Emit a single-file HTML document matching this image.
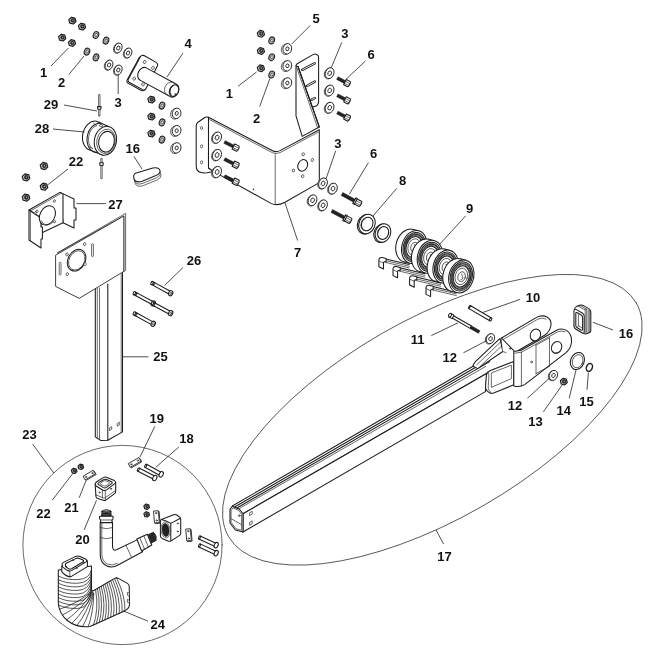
<!DOCTYPE html>
<html><head><meta charset="utf-8"><title>Parts diagram</title>
<style>
html,body{margin:0;padding:0;background:#fff;}
body{width:650px;height:650px;overflow:hidden;}
svg{display:block;filter:grayscale(1);}
.l{font-family:"Liberation Sans",sans-serif;font-weight:bold;font-size:13px;fill:#111;text-anchor:middle;}
.s{fill:none;stroke:#1c1c1c;stroke-width:1.05;stroke-linecap:round;stroke-linejoin:round;}
.t{fill:none;stroke:#2a2a2a;stroke-width:0.7;stroke-linecap:round;stroke-linejoin:round;}
.w{fill:#fff;stroke:#1c1c1c;stroke-width:1.05;stroke-linecap:round;stroke-linejoin:round;}
.wt{fill:#fff;stroke:#2a2a2a;stroke-width:0.7;stroke-linejoin:round;}
.w2{fill:#fff;stroke:#1c1c1c;stroke-width:0.85;}
.k{fill:#222;stroke:#222;stroke-width:0.6;stroke-linejoin:round;}
.ld{fill:none;stroke:#222;stroke-width:0.8;}
.g{fill:#888;stroke:#222;stroke-width:0.6;}
</style></head><body>
<svg width="650" height="650" viewBox="0 0 650 650">
<rect x="0" y="0" width="650" height="650" fill="#fff"/>
<!-- 00_frame.py -->
<ellipse class="t" cx="432.4" cy="419.7" rx="235" ry="99.9" transform="rotate(-29.8 432.4 419.7)"/>
<circle class="t" cx="122.5" cy="545" r="99.6"/>
<!-- 10_topleft.py -->
<path d="M75.97 21.51 L73.36 24 L69.78 23.09 L68.83 19.69 L71.44 17.2 L75.02 18.11 Z" fill="#c4c4c4" stroke="#1c1c1c" stroke-width="1.15" stroke-linejoin="round"/>
<ellipse class="k" cx="72.7" cy="20.4" rx="1.78" ry="1.92"/>
<ellipse class="wt" cx="72.9" cy="20.3" rx="0.74" ry="0.89"/>
<path d="M85.57 27.51 L82.96 30 L79.38 29.09 L78.43 25.69 L81.04 23.2 L84.62 24.11 Z" fill="#c4c4c4" stroke="#1c1c1c" stroke-width="1.15" stroke-linejoin="round"/>
<ellipse class="k" cx="82.3" cy="26.4" rx="1.78" ry="1.92"/>
<ellipse class="wt" cx="82.5" cy="26.3" rx="0.74" ry="0.89"/>
<path d="M65.77 38.51 L63.16 41 L59.58 40.09 L58.63 36.69 L61.24 34.2 L64.82 35.11 Z" fill="#c4c4c4" stroke="#1c1c1c" stroke-width="1.15" stroke-linejoin="round"/>
<ellipse class="k" cx="62.5" cy="37.4" rx="1.78" ry="1.92"/>
<ellipse class="wt" cx="62.7" cy="37.3" rx="0.74" ry="0.89"/>
<path d="M75.57 43.91 L72.96 46.4 L69.38 45.49 L68.43 42.09 L71.04 39.6 L74.62 40.51 Z" fill="#c4c4c4" stroke="#1c1c1c" stroke-width="1.15" stroke-linejoin="round"/>
<ellipse class="k" cx="72.3" cy="42.8" rx="1.78" ry="1.92"/>
<ellipse class="wt" cx="72.5" cy="42.7" rx="0.74" ry="0.89"/>
<ellipse cx="96" cy="35" rx="2.7" ry="3.5" transform="rotate(20 96 35)" fill="#bbb" stroke="#222" stroke-width="1.1"/>
<ellipse class="wt" cx="96.2" cy="35" rx="1.13" ry="1.61" transform="rotate(20 96.2 35)"/>
<ellipse cx="106" cy="40.6" rx="2.7" ry="3.5" transform="rotate(20 106 40.6)" fill="#bbb" stroke="#222" stroke-width="1.1"/>
<ellipse class="wt" cx="106.2" cy="40.6" rx="1.13" ry="1.61" transform="rotate(20 106.2 40.6)"/>
<ellipse cx="87" cy="51.6" rx="2.7" ry="3.5" transform="rotate(20 87 51.6)" fill="#bbb" stroke="#222" stroke-width="1.1"/>
<ellipse class="wt" cx="87.2" cy="51.6" rx="1.13" ry="1.61" transform="rotate(20 87.2 51.6)"/>
<ellipse cx="96" cy="57.4" rx="2.7" ry="3.5" transform="rotate(20 96 57.4)" fill="#bbb" stroke="#222" stroke-width="1.1"/>
<ellipse class="wt" cx="96.2" cy="57.4" rx="1.13" ry="1.61" transform="rotate(20 96.2 57.4)"/>
<ellipse class="wt" cx="117.4" cy="48.24" rx="3.7" ry="5.1" transform="rotate(22 117.4 48.24)"/>
<ellipse class="w2" cx="118.2" cy="48" rx="3.7" ry="5.1" transform="rotate(22 118.2 48)"/>
<ellipse class="w2" cx="118.3" cy="48" rx="1.55" ry="2.14" transform="rotate(22 118.3 48)"/>
<ellipse class="wt" cx="127.2" cy="53.24" rx="3.7" ry="5.1" transform="rotate(22 127.2 53.24)"/>
<ellipse class="w2" cx="128" cy="53" rx="3.7" ry="5.1" transform="rotate(22 128 53)"/>
<ellipse class="w2" cx="128.1" cy="53" rx="1.55" ry="2.14" transform="rotate(22 128.1 53)"/>
<ellipse class="wt" cx="108.2" cy="65.24" rx="3.7" ry="5.1" transform="rotate(22 108.2 65.24)"/>
<ellipse class="w2" cx="109" cy="65" rx="3.7" ry="5.1" transform="rotate(22 109 65)"/>
<ellipse class="w2" cx="109.1" cy="65" rx="1.55" ry="2.14" transform="rotate(22 109.1 65)"/>
<ellipse class="wt" cx="117.4" cy="70.24" rx="3.7" ry="5.1" transform="rotate(22 117.4 70.24)"/>
<ellipse class="w2" cx="118.2" cy="70" rx="3.7" ry="5.1" transform="rotate(22 118.2 70)"/>
<ellipse class="w2" cx="118.3" cy="70" rx="1.55" ry="2.14" transform="rotate(22 118.3 70)"/>
<path d="M154.97 100.51 L152.36 103 L148.78 102.09 L147.83 98.69 L150.44 96.2 L154.02 97.11 Z" fill="#c4c4c4" stroke="#1c1c1c" stroke-width="1.15" stroke-linejoin="round"/>
<ellipse class="k" cx="151.7" cy="99.4" rx="1.78" ry="1.92"/>
<ellipse class="wt" cx="151.9" cy="99.3" rx="0.74" ry="0.89"/>
<path d="M154.97 117.51 L152.36 120 L148.78 119.09 L147.83 115.69 L150.44 113.2 L154.02 114.11 Z" fill="#c4c4c4" stroke="#1c1c1c" stroke-width="1.15" stroke-linejoin="round"/>
<ellipse class="k" cx="151.7" cy="116.4" rx="1.78" ry="1.92"/>
<ellipse class="wt" cx="151.9" cy="116.3" rx="0.74" ry="0.89"/>
<path d="M154.97 134.51 L152.36 137 L148.78 136.09 L147.83 132.69 L150.44 130.2 L154.02 131.11 Z" fill="#c4c4c4" stroke="#1c1c1c" stroke-width="1.15" stroke-linejoin="round"/>
<ellipse class="k" cx="151.7" cy="133.4" rx="1.78" ry="1.92"/>
<ellipse class="wt" cx="151.9" cy="133.3" rx="0.74" ry="0.89"/>
<ellipse cx="162" cy="105.6" rx="2.7" ry="3.5" transform="rotate(20 162 105.6)" fill="#bbb" stroke="#222" stroke-width="1.1"/>
<ellipse class="wt" cx="162.2" cy="105.6" rx="1.13" ry="1.61" transform="rotate(20 162.2 105.6)"/>
<ellipse cx="162" cy="122.4" rx="2.7" ry="3.5" transform="rotate(20 162 122.4)" fill="#bbb" stroke="#222" stroke-width="1.1"/>
<ellipse class="wt" cx="162.2" cy="122.4" rx="1.13" ry="1.61" transform="rotate(20 162.2 122.4)"/>
<ellipse cx="162" cy="139.6" rx="2.7" ry="3.5" transform="rotate(20 162 139.6)" fill="#bbb" stroke="#222" stroke-width="1.1"/>
<ellipse class="wt" cx="162.2" cy="139.6" rx="1.13" ry="1.61" transform="rotate(20 162.2 139.6)"/>
<ellipse class="wt" cx="175" cy="113.88" rx="4.3" ry="5.3" transform="rotate(15 175 113.88)"/>
<ellipse class="w2" cx="176.6" cy="113.4" rx="4.3" ry="5.3" transform="rotate(15 176.6 113.4)"/>
<ellipse class="w2" cx="176.7" cy="113.4" rx="1.55" ry="1.91" transform="rotate(15 176.7 113.4)"/>
<ellipse class="wt" cx="175" cy="131.18" rx="4.3" ry="5.3" transform="rotate(15 175 131.18)"/>
<ellipse class="w2" cx="176.6" cy="130.7" rx="4.3" ry="5.3" transform="rotate(15 176.6 130.7)"/>
<ellipse class="w2" cx="176.7" cy="130.7" rx="1.55" ry="1.91" transform="rotate(15 176.7 130.7)"/>
<ellipse class="wt" cx="175" cy="148.38" rx="4.3" ry="5.3" transform="rotate(15 175 148.38)"/>
<ellipse class="w2" cx="176.6" cy="147.9" rx="4.3" ry="5.3" transform="rotate(15 176.6 147.9)"/>
<ellipse class="w2" cx="176.7" cy="147.9" rx="1.55" ry="1.91" transform="rotate(15 176.7 147.9)"/>
<path d="M47.77 166.96 L45.01 169.58 L41.24 168.62 L40.23 165.04 L42.99 162.42 L46.76 163.38 Z" fill="#c4c4c4" stroke="#1c1c1c" stroke-width="1.15" stroke-linejoin="round"/>
<ellipse class="k" cx="44.3" cy="165.8" rx="1.87" ry="2.03"/>
<ellipse class="wt" cx="44.5" cy="165.7" rx="0.78" ry="0.94"/>
<path d="M29.77 178.36 L27.01 180.98 L23.24 180.02 L22.23 176.44 L24.99 173.82 L28.76 174.78 Z" fill="#c4c4c4" stroke="#1c1c1c" stroke-width="1.15" stroke-linejoin="round"/>
<ellipse class="k" cx="26.3" cy="177.2" rx="1.87" ry="2.03"/>
<ellipse class="wt" cx="26.5" cy="177.1" rx="0.78" ry="0.94"/>
<path d="M47.77 187.66 L45.01 190.28 L41.24 189.32 L40.23 185.74 L42.99 183.12 L46.76 184.08 Z" fill="#c4c4c4" stroke="#1c1c1c" stroke-width="1.15" stroke-linejoin="round"/>
<ellipse class="k" cx="44.3" cy="186.5" rx="1.87" ry="2.03"/>
<ellipse class="wt" cx="44.5" cy="186.4" rx="0.78" ry="0.94"/>
<path d="M29.77 198.56 L27.01 201.18 L23.24 200.22 L22.23 196.64 L24.99 194.02 L28.76 194.98 Z" fill="#c4c4c4" stroke="#1c1c1c" stroke-width="1.15" stroke-linejoin="round"/>
<ellipse class="k" cx="26.3" cy="197.4" rx="1.87" ry="2.03"/>
<ellipse class="wt" cx="26.5" cy="197.3" rx="0.78" ry="0.94"/>
<!-- 11_shaft4.py -->
<g transform="translate(-1.2 0.9)"><path class="w" d="M142 55.6 Q143.5 55 145 56 L156.5 62.6 Q158 63.6 157.6 65.6 L146 88.6 Q144.6 90.6 142.6 89.6 L129 82.2 Q127.6 81.2 128.2 79.4 L140.4 56.8 Q141 55.8 142 55.6 Z" /></g>
<path class="w" d="M142 55.6 Q143.5 55 145 56 L156.5 62.6 Q158 63.6 157.6 65.6 L146 88.6 Q144.6 90.6 142.6 89.6 L129 82.2 Q127.6 81.2 128.2 79.4 L140.4 56.8 Q141 55.8 142 55.6 Z" />
<ellipse class="wt" cx="144.6" cy="62" rx="1.3" ry="1.6" transform="rotate(20 144.6 62)"/>
<ellipse class="wt" cx="153" cy="67.8" rx="1.3" ry="1.6" transform="rotate(20 153 67.8)"/>
<ellipse class="wt" cx="134.2" cy="78.6" rx="1.3" ry="1.6" transform="rotate(20 134.2 78.6)"/>
<ellipse class="wt" cx="143" cy="84.4" rx="1.3" ry="1.6" transform="rotate(20 143 84.4)"/>
<path class="w" d="M145.8 67.6 L176 84 A5 6.6 25 0 1 170.6 96.8 L140.8 80.6 A5 6.6 25 0 1 145.8 67.6 Z" />
<path class="t" d="M172.6 82.2 A5 6.6 25 0 0 167.4 95" />
<ellipse class="w" cx="174" cy="90.6" rx="4.4" ry="6" transform="rotate(25 174 90.6)"/>
<path class="s" d="M172.6 85.6 A4.4 6 25 0 0 171 94.6" />
<ellipse class="t" cx="175.2" cy="94.2" rx="0.5" ry="0.6"/>
<!-- 12_roller28.py -->
<path class="wt" d="M98.6 94.6 L100 94.6 L100 116 L98.6 116 Z" />
<path class="w" d="M97.5 106.6 L101.1 106.6 L100.8 109.2 L97.8 109.2 Z" />
<path class="wt" d="M100.8 158.5 L102.2 158.5 L102.2 178.5 L100.8 178.5 Z" />
<path class="w" d="M99.7 162.8 L103.3 162.8 L103 165.4 L100 165.4 Z" />
<path class="w" d="M96.4 121.2 A11 14.6 12 0 0 91.2 150.4 L103 155.2 L108 126.2 Z" />
<path class="s" d="M100.6 123.4 A11 14.6 12 0 0 96 152.4" />
<path class="t" d="M96.4 125.6 A9.4 12.6 12 0 0 92.6 148.6" />
<path class="t" d="M93.4 123 L96.4 125.6 M89 146.6 L92.6 148.6" />
<path class="t" d="M96.8 124 L99.6 122 L101.4 123.6" />
<ellipse class="wt" cx="101" cy="125.6" rx="1.7" ry="1" transform="rotate(15 101 125.6)"/>
<ellipse class="w" cx="105.4" cy="140.8" rx="11" ry="14.6" transform="rotate(12 105.4 140.8)"/>
<ellipse class="t" cx="106" cy="141.3" rx="9.2" ry="12.3" transform="rotate(12 106 141.3)"/>
<ellipse class="s" cx="106.5" cy="141.7" rx="7.8" ry="10.4" transform="rotate(12 106.5 141.7)"/>
<!-- 13_plug16a.py -->
<g transform="translate(1.1 4.4)"><path class="wt" d="M135.4 173.2 L152.8 168 Q158.6 166.8 160 170.4 Q160.6 173.4 156 175.6 L141.6 181.4 Q135.6 183 134 179 Q133 175 135.4 173.2 Z" /></g>
<g transform="translate(0.55 2.2)"><path class="wt" d="M135.4 173.2 L152.8 168 Q158.6 166.8 160 170.4 Q160.6 173.4 156 175.6 L141.6 181.4 Q135.6 183 134 179 Q133 175 135.4 173.2 Z" /></g>
<path class="w" d="M135.4 173.2 L152.8 168 Q158.6 166.8 160 170.4 Q160.6 173.4 156 175.6 L141.6 181.4 Q135.6 183 134 179 Q133 175 135.4 173.2 Z" />
<!-- 14_bracket27.py -->
<path class="w" d="M60 192.4 L74 199 L74 208 L76 208 L76 220 L74 220 L74 228 L63 222.8 Z" />
<path class="w" d="M29 210 L60 192.4 L63 194 L63 222.8 L41 233.2 L41 218 Z" />
<line class="t" x1="30.4" y1="211" x2="61" y2="193.4"/>
<path class="w" d="M29 210 L41 218 L41 227 L42.4 227 L42.4 239 L41 239 L41 248 L29 240 Z" />
<line class="t" x1="30.4" y1="211.6" x2="30.4" y2="240.6"/>
<ellipse class="w" cx="47.4" cy="215.4" rx="7.4" ry="10.2" transform="rotate(28 47.4 215.4)"/>
<path class="t" d="M41.4 221 A7.4 10.2 28 0 0 52.6 222.6" />
<ellipse class="wt" cx="54.4" cy="201" rx="1" ry="1.3" transform="rotate(20 54.4 201)"/>
<ellipse class="wt" cx="37" cy="211.4" rx="1" ry="1.3" transform="rotate(20 37 211.4)"/>
<ellipse class="wt" cx="54.4" cy="221.6" rx="1" ry="1.3" transform="rotate(20 54.4 221.6)"/>
<ellipse class="wt" cx="35.2" cy="213" rx="1" ry="1.3" transform="rotate(20 35.2 213)"/>
<!-- 15_post25.py -->
<path class="w" d="M95.3 286 L95.3 436.9 L100.5 440.4 L107.8 440.2 L122.5 431.9 L122.5 270 L107.8 280 Z" />
<line class="t" x1="97.3" y1="288" x2="97.3" y2="438.2"/>
<line class="t" x1="99.5" y1="288" x2="99.5" y2="439.6"/>
<line class="s" x1="107.8" y1="284" x2="107.8" y2="440.2"/>
<line class="t" x1="121.2" y1="274" x2="121.2" y2="432.6"/>
<path class="wt" d="M109.5 427.9 l2.2 -1.2 l0 2.6 l-2.2 1.2 Z" />
<path class="wt" d="M117.2 423.5 l2.2 -1.2 l0 2.6 l-2.2 1.2 Z" />
<path class="wt" d="M57.2 253 L125.6 213.4 L125.6 270.4 L123.8 271.6 L123.8 216 Z" />
<path class="w2" d="M55.6 255.2 L123.8 216 L123.8 271.4 L79.2 298.4 L55.6 286.4 Z" />
<ellipse class="w" cx="76.6" cy="260.2" rx="8.6" ry="11.4" transform="rotate(28 76.6 260.2)"/>
<ellipse class="t" cx="76.8" cy="260.4" rx="7.6" ry="10.2" transform="rotate(28 76.8 260.4)"/>
<ellipse class="wt" cx="84.6" cy="244.2" rx="1.2" ry="1.5" transform="rotate(20 84.6 244.2)"/>
<ellipse class="wt" cx="67" cy="254.4" rx="1.2" ry="1.5" transform="rotate(20 67 254.4)"/>
<ellipse class="wt" cx="85" cy="264.2" rx="1.2" ry="1.5" transform="rotate(20 85 264.2)"/>
<ellipse class="wt" cx="67.4" cy="274.2" rx="1.2" ry="1.5" transform="rotate(20 67.4 274.2)"/>
<path class="wt" d="M91.6 245 a0.9 0.9 0 0 1 1.8 -0.6 l0 11 a0.9 0.9 0 0 1 -1.8 0.6 Z" />
<path class="wt" d="M59.2 263.4 a0.9 0.9 0 0 1 1.8 -0.6 l0 11 a0.9 0.9 0 0 1 -1.8 0.6 Z" />
<!-- 16_bolts26.py -->
<path class="w" d="M152.74 281.64 L171.74 292.04 L170.26 294.76 L151.26 284.36 Z"/>
<ellipse class="w" cx="152" cy="283" rx="1" ry="1.75" transform="rotate(28.69 152 283)"/>
<path class="s" d="M154.5 282.6 L153.01 285.32"/>
<path class="t" d="M155.2 282.98 L153.71 285.7"/>
<ellipse class="w" cx="170.65" cy="293.21" rx="2" ry="2.7" transform="rotate(28.69 170.65 293.21)"/>
<ellipse class="t" cx="170.95" cy="293.31" rx="0.9" ry="1.3" transform="rotate(28.69 170.95 293.31)"/>
<path class="w" d="M135.04 291.84 L154.34 302.24 L152.86 304.96 L133.56 294.56 Z"/>
<ellipse class="w" cx="134.3" cy="293.2" rx="1" ry="1.75" transform="rotate(28.32 134.3 293.2)"/>
<path class="s" d="M136.8 292.78 L135.33 295.51"/>
<path class="t" d="M137.5 293.16 L136.03 295.89"/>
<ellipse class="w" cx="153.25" cy="303.41" rx="2" ry="2.7" transform="rotate(28.32 153.25 303.41)"/>
<ellipse class="t" cx="153.55" cy="303.51" rx="0.9" ry="1.3" transform="rotate(28.32 153.55 303.51)"/>
<path class="w" d="M153.13 302.03 L171.73 312.03 L170.27 314.77 L151.67 304.77 Z"/>
<ellipse class="w" cx="152.4" cy="303.4" rx="1" ry="1.75" transform="rotate(28.26 152.4 303.4)"/>
<path class="s" d="M154.9 302.98 L153.43 305.71"/>
<path class="t" d="M155.6 303.36 L154.13 306.09"/>
<ellipse class="w" cx="170.65" cy="313.21" rx="2" ry="2.7" transform="rotate(28.26 170.65 313.21)"/>
<ellipse class="t" cx="170.95" cy="313.31" rx="0.9" ry="1.3" transform="rotate(28.26 170.95 313.31)"/>
<path class="w" d="M135.05 312.04 L154.35 322.64 L152.85 325.36 L133.55 314.76 Z"/>
<ellipse class="w" cx="134.3" cy="313.4" rx="1" ry="1.75" transform="rotate(28.78 134.3 313.4)"/>
<path class="s" d="M136.8 313 L135.31 315.72"/>
<path class="t" d="M137.5 313.39 L136.01 316.11"/>
<ellipse class="w" cx="153.25" cy="323.81" rx="2" ry="2.7" transform="rotate(28.78 153.25 323.81)"/>
<ellipse class="t" cx="153.55" cy="323.91" rx="0.9" ry="1.3" transform="rotate(28.78 153.55 323.91)"/>
<!-- 20_bracket7.py -->
<path class="w" d="M296 66 L296 115.8 L302.2 136.4 L319.3 127 L298 66.4 Z" />
<path class="w" d="M296 66 Q296 64.6 297.2 63.8 L313.4 54.4 Q315.2 53.4 316.8 54.6 L317.8 55.4 Q318.6 56.2 318.6 57.6 L318.6 101.6 Q318.4 105.6 314.6 106.6 L312.4 107.2 L298 66.4 Z" />
<line class="s" x1="298" y1="66.4" x2="319.3" y2="127"/>
<line class="t" x1="296.8" y1="67.6" x2="317.6" y2="127.8"/>
<line x1="302.2" y1="69.8" x2="314.6" y2="63.4" stroke="#1c1c1c" stroke-width="2.5" stroke-linecap="round"/>
<line x1="302.5" y1="69.7" x2="314.6" y2="63.4" stroke="#fff" stroke-width="0.9" stroke-linecap="round"/>
<line x1="306.8" y1="86" x2="314.8" y2="81.6" stroke="#1c1c1c" stroke-width="2.5" stroke-linecap="round"/>
<line x1="307.1" y1="85.9" x2="314.8" y2="81.6" stroke="#fff" stroke-width="0.9" stroke-linecap="round"/>
<line x1="311.4" y1="99.8" x2="314.8" y2="98" stroke="#1c1c1c" stroke-width="2.5" stroke-linecap="round"/>
<line x1="311.7" y1="99.7" x2="314.8" y2="98" stroke="#fff" stroke-width="0.9" stroke-linecap="round"/>
<path class="w" d="M196.2 126 Q196.2 123.6 198 122.2 L204.4 117.8 Q206 116.8 208.5 117.2 L208.5 168 L213.4 171.4 L207 172.8 Q199.6 173.4 197.4 170.4 Q196.2 168.8 196.2 166 Z" />
<ellipse class="wt" cx="201.6" cy="128" rx="1.1" ry="1.5"/>
<ellipse class="wt" cx="201.6" cy="146.3" rx="1.1" ry="1.5"/>
<ellipse class="wt" cx="201.6" cy="162.3" rx="1.1" ry="1.5"/>
<path class="w" d="M208.5 117.2 L272.6 150.8 Q276 152.6 280 150.6 L319.3 129.7 L319.3 182.6 L285 202.2 Q277 206.4 271 203.4 L213.4 171.4 L208.5 168 Z" />
<path class="t" d="M209.6 119.6 L272.6 152.8 Q276 154.4 280 152.6 L318.2 132.2" />
<line class="t" x1="275.2" y1="154.6" x2="275.2" y2="204.6"/>
<ellipse class="w" cx="302.7" cy="165.4" rx="4.7" ry="6" transform="rotate(25 302.7 165.4)"/>
<ellipse class="wt" cx="303.2" cy="154.3" rx="1.2" ry="1.5" transform="rotate(20 303.2 154.3)"/>
<ellipse class="wt" cx="312.3" cy="160" rx="1.2" ry="1.5" transform="rotate(20 312.3 160)"/>
<ellipse class="wt" cx="293.4" cy="170.5" rx="1.2" ry="1.5" transform="rotate(20 293.4 170.5)"/>
<ellipse class="wt" cx="302.7" cy="176.2" rx="1.2" ry="1.5" transform="rotate(20 302.7 176.2)"/>
<circle class="k" cx="253.5" cy="189.3" r="0.5"/>
<ellipse class="wt" cx="216.1" cy="137.87" rx="4.3" ry="5.8" transform="rotate(22 216.1 137.87)"/>
<ellipse class="w2" cx="217" cy="137.6" rx="4.3" ry="5.8" transform="rotate(22 217 137.6)"/>
<ellipse class="w2" cx="217.1" cy="137.6" rx="1.81" ry="2.44" transform="rotate(22 217.1 137.6)"/>
<ellipse class="wt" cx="216.1" cy="155.27" rx="4.3" ry="5.8" transform="rotate(22 216.1 155.27)"/>
<ellipse class="w2" cx="217" cy="155" rx="4.3" ry="5.8" transform="rotate(22 217 155)"/>
<ellipse class="w2" cx="217.1" cy="155" rx="1.81" ry="2.44" transform="rotate(22 217.1 155)"/>
<ellipse class="wt" cx="216.1" cy="172.27" rx="4.3" ry="5.8" transform="rotate(22 216.1 172.27)"/>
<ellipse class="w2" cx="217" cy="172" rx="4.3" ry="5.8" transform="rotate(22 217 172)"/>
<ellipse class="w2" cx="217.1" cy="172" rx="1.81" ry="2.44" transform="rotate(22 217.1 172)"/>
<path class="k" d="M225.17 140.66 L234.07 145.14 L232.72 147.82 L223.83 143.34 Z"/>
<path class="w" d="M234.7 143.89 L239.17 146.14 L239.05 147.7 L237.75 150.3 L236.56 151.32 L232.09 149.07 Z"/>
<path class="t" d="M233.85 145.57 L238.79 148.22"/>
<path class="t" d="M232.81 147.65 L237.88 150.04"/>
<path class="k" d="M225.17 157.86 L234.07 162.34 L232.72 165.02 L223.83 160.54 Z"/>
<path class="w" d="M234.7 161.09 L239.17 163.34 L239.05 164.9 L237.75 167.5 L236.56 168.52 L232.09 166.27 Z"/>
<path class="t" d="M233.85 162.77 L238.79 165.42"/>
<path class="t" d="M232.81 164.85 L237.88 167.24"/>
<path class="k" d="M225.17 174.86 L234.07 179.34 L232.72 182.02 L223.83 177.54 Z"/>
<path class="w" d="M234.7 178.09 L239.17 180.34 L239.05 181.9 L237.75 184.5 L236.56 185.52 L232.09 183.27 Z"/>
<path class="t" d="M233.85 179.77 L238.79 182.42"/>
<path class="t" d="M232.81 181.85 L237.88 184.24"/>
<!-- 21_hw_bracket.py -->
<path d="M264.47 34.71 L261.86 37.2 L258.28 36.29 L257.33 32.89 L259.94 30.4 L263.52 31.31 Z" fill="#c4c4c4" stroke="#1c1c1c" stroke-width="1.15" stroke-linejoin="round"/>
<ellipse class="k" cx="261.2" cy="33.6" rx="1.78" ry="1.92"/>
<ellipse class="wt" cx="261.4" cy="33.5" rx="0.74" ry="0.89"/>
<path d="M264.47 51.91 L261.86 54.4 L258.28 53.49 L257.33 50.09 L259.94 47.6 L263.52 48.51 Z" fill="#c4c4c4" stroke="#1c1c1c" stroke-width="1.15" stroke-linejoin="round"/>
<ellipse class="k" cx="261.2" cy="50.8" rx="1.78" ry="1.92"/>
<ellipse class="wt" cx="261.4" cy="50.7" rx="0.74" ry="0.89"/>
<path d="M264.47 69.21 L261.86 71.7 L258.28 70.79 L257.33 67.39 L259.94 64.9 L263.52 65.81 Z" fill="#c4c4c4" stroke="#1c1c1c" stroke-width="1.15" stroke-linejoin="round"/>
<ellipse class="k" cx="261.2" cy="68.1" rx="1.78" ry="1.92"/>
<ellipse class="wt" cx="261.4" cy="68" rx="0.74" ry="0.89"/>
<ellipse cx="271.7" cy="40.4" rx="2.7" ry="3.5" transform="rotate(20 271.7 40.4)" fill="#bbb" stroke="#222" stroke-width="1.1"/>
<ellipse class="wt" cx="271.9" cy="40.4" rx="1.13" ry="1.61" transform="rotate(20 271.9 40.4)"/>
<ellipse cx="271.7" cy="57.2" rx="2.7" ry="3.5" transform="rotate(20 271.7 57.2)" fill="#bbb" stroke="#222" stroke-width="1.1"/>
<ellipse class="wt" cx="271.9" cy="57.2" rx="1.13" ry="1.61" transform="rotate(20 271.9 57.2)"/>
<ellipse cx="271.7" cy="74.5" rx="2.7" ry="3.5" transform="rotate(20 271.7 74.5)" fill="#bbb" stroke="#222" stroke-width="1.1"/>
<ellipse class="wt" cx="271.9" cy="74.5" rx="1.13" ry="1.61" transform="rotate(20 271.9 74.5)"/>
<ellipse class="wt" cx="285.7" cy="49.28" rx="4.3" ry="5.3" transform="rotate(15 285.7 49.28)"/>
<ellipse class="w2" cx="287.3" cy="48.8" rx="4.3" ry="5.3" transform="rotate(15 287.3 48.8)"/>
<ellipse class="w2" cx="287.4" cy="48.8" rx="1.55" ry="1.91" transform="rotate(15 287.4 48.8)"/>
<ellipse class="wt" cx="285.7" cy="66.28" rx="4.3" ry="5.3" transform="rotate(15 285.7 66.28)"/>
<ellipse class="w2" cx="287.3" cy="65.8" rx="4.3" ry="5.3" transform="rotate(15 287.3 65.8)"/>
<ellipse class="w2" cx="287.4" cy="65.8" rx="1.55" ry="1.91" transform="rotate(15 287.4 65.8)"/>
<ellipse class="wt" cx="285.7" cy="83.48" rx="4.3" ry="5.3" transform="rotate(15 285.7 83.48)"/>
<ellipse class="w2" cx="287.3" cy="83" rx="4.3" ry="5.3" transform="rotate(15 287.3 83)"/>
<ellipse class="w2" cx="287.4" cy="83" rx="1.55" ry="1.91" transform="rotate(15 287.4 83)"/>
<ellipse class="wt" cx="328.7" cy="73.47" rx="4.2" ry="5.6" transform="rotate(22 328.7 73.47)"/>
<ellipse class="w2" cx="329.6" cy="73.2" rx="4.2" ry="5.6" transform="rotate(22 329.6 73.2)"/>
<ellipse class="w2" cx="329.7" cy="73.2" rx="1.76" ry="2.35" transform="rotate(22 329.7 73.2)"/>
<ellipse class="wt" cx="328.7" cy="90.77" rx="4.2" ry="5.6" transform="rotate(22 328.7 90.77)"/>
<ellipse class="w2" cx="329.6" cy="90.5" rx="4.2" ry="5.6" transform="rotate(22 329.6 90.5)"/>
<ellipse class="w2" cx="329.7" cy="90.5" rx="1.76" ry="2.35" transform="rotate(22 329.7 90.5)"/>
<ellipse class="wt" cx="328.7" cy="107.97" rx="4.2" ry="5.6" transform="rotate(22 328.7 107.97)"/>
<ellipse class="w2" cx="329.6" cy="107.7" rx="4.2" ry="5.6" transform="rotate(22 329.6 107.7)"/>
<ellipse class="w2" cx="329.7" cy="107.7" rx="1.76" ry="2.35" transform="rotate(22 329.7 107.7)"/>
<path class="k" d="M338.09 76.87 L345.67 80.78 L344.29 83.45 L336.71 79.53 Z"/>
<path class="w" d="M346.31 79.54 L350.4 81.65 L350.27 83.21 L348.93 85.79 L347.74 86.8 L343.65 84.69 Z"/>
<path class="t" d="M345.45 81.21 L350 83.73"/>
<path class="t" d="M344.38 83.27 L349.07 85.53"/>
<path class="k" d="M338.09 94.07 L345.67 97.98 L344.29 100.65 L336.71 96.73 Z"/>
<path class="w" d="M346.31 96.74 L350.4 98.85 L350.27 100.41 L348.93 102.99 L347.74 104 L343.65 101.89 Z"/>
<path class="t" d="M345.45 98.41 L350 100.93"/>
<path class="t" d="M344.38 100.47 L349.07 102.73"/>
<path class="k" d="M338.09 111.27 L345.67 115.18 L344.29 117.85 L336.71 113.93 Z"/>
<path class="w" d="M346.31 113.94 L350.4 116.05 L350.27 117.61 L348.93 120.19 L347.74 121.2 L343.65 119.09 Z"/>
<path class="t" d="M345.45 115.61 L350 118.13"/>
<path class="t" d="M344.38 117.67 L349.07 119.93"/>
<ellipse class="wt" cx="322.1" cy="183.67" rx="4.2" ry="5.6" transform="rotate(22 322.1 183.67)"/>
<ellipse class="w2" cx="323" cy="183.4" rx="4.2" ry="5.6" transform="rotate(22 323 183.4)"/>
<ellipse class="w2" cx="323.1" cy="183.4" rx="1.76" ry="2.35" transform="rotate(22 323.1 183.4)"/>
<ellipse class="wt" cx="332" cy="188.87" rx="4.2" ry="5.6" transform="rotate(22 332 188.87)"/>
<ellipse class="w2" cx="332.9" cy="188.6" rx="4.2" ry="5.6" transform="rotate(22 332.9 188.6)"/>
<ellipse class="w2" cx="333" cy="188.6" rx="1.76" ry="2.35" transform="rotate(22 333 188.6)"/>
<ellipse class="wt" cx="311.6" cy="200.57" rx="4.2" ry="5.6" transform="rotate(22 311.6 200.57)"/>
<ellipse class="w2" cx="312.5" cy="200.3" rx="4.2" ry="5.6" transform="rotate(22 312.5 200.3)"/>
<ellipse class="w2" cx="312.6" cy="200.3" rx="1.76" ry="2.35" transform="rotate(22 312.6 200.3)"/>
<ellipse class="wt" cx="322.1" cy="205.57" rx="4.2" ry="5.6" transform="rotate(22 322.1 205.57)"/>
<ellipse class="w2" cx="323" cy="205.3" rx="4.2" ry="5.6" transform="rotate(22 323 205.3)"/>
<ellipse class="w2" cx="323.1" cy="205.3" rx="1.76" ry="2.35" transform="rotate(22 323.1 205.3)"/>
<path class="k" d="M342.76 192.59 L355.17 199.32 L353.64 202.13 L341.24 195.41 Z"/>
<path class="w" d="M355.79 198.18 L361.85 201.46 L361.69 203.03 L360.31 205.57 L359.09 206.56 L353.02 203.28 Z"/>
<path class="t" d="M354.89 199.83 L361.41 203.54"/>
<path class="t" d="M353.78 201.87 L360.45 205.32"/>
<path class="w" d="M352.88 203.54 L354.29 204.3 L357.34 198.67 L355.93 197.91 Z"/>
<path class="k" d="M332.55 209.59 L345.13 216.27 L343.63 219.09 L331.05 212.41 Z"/>
<path class="w" d="M345.74 215.12 L351.83 218.36 L351.68 219.92 L350.32 222.48 L349.11 223.48 L343.02 220.24 Z"/>
<path class="t" d="M344.85 216.78 L351.41 220.43"/>
<path class="t" d="M343.76 218.83 L350.46 222.22"/>
<path class="w" d="M342.88 220.51 L344.29 221.26 L347.29 215.61 L345.88 214.86 Z"/>
<!-- 30_springs9.py -->
<ellipse class="w" cx="365.6" cy="224.28" rx="8" ry="10" transform="rotate(22 365.6 224.28)"/>
<ellipse class="w" cx="367" cy="224" rx="8" ry="10" transform="rotate(22 367 224)"/>
<ellipse class="w" cx="367.2" cy="224" rx="5.6" ry="7" transform="rotate(22 367.2 224)"/>
<path class="t" d="M363.92 218.4 A5.6 7 22 0 0 365.32 230.65" />
<ellipse class="w" cx="381.6" cy="233.28" rx="7.6" ry="9.4" transform="rotate(22 381.6 233.28)"/>
<ellipse class="w" cx="383" cy="233" rx="7.6" ry="9.4" transform="rotate(22 383 233)"/>
<ellipse class="w" cx="383.2" cy="233" rx="5.32" ry="6.58" transform="rotate(22 383.2 233)"/>
<path class="t" d="M380.07 227.74 A5.32 6.58 22 0 0 381.4 239.25" />
<line class="s" x1="385.7" y1="258.9" x2="409.2" y2="264.54"/>
<line class="t" x1="385.4" y1="260.6" x2="409.2" y2="266.24"/>
<line class="t" x1="385.1" y1="262.3" x2="409.2" y2="267.94"/>
<path class="w" d="M386.1 258.6 l-4 -1 q-3.4 -0.2 -3.2 3 l0 6.2 l4.6 2.2 l0 -6 q0 -1.8 2.6 -1.2 Z" />
<path class="t" d="M379.1 261 l4.4 2.2" />
<line class="s" x1="399.8" y1="267.7" x2="424.9" y2="273.72"/>
<line class="t" x1="399.5" y1="269.4" x2="424.9" y2="275.42"/>
<line class="t" x1="399.2" y1="271.1" x2="424.9" y2="277.12"/>
<path class="w" d="M400.2 267.4 l-4 -1 q-3.4 -0.2 -3.2 3 l0 6.2 l4.6 2.2 l0 -6 q0 -1.8 2.6 -1.2 Z" />
<path class="t" d="M393.2 269.8 l4.4 2.2" />
<line class="s" x1="416.4" y1="277.1" x2="440.6" y2="282.91"/>
<line class="t" x1="416.1" y1="278.8" x2="440.6" y2="284.61"/>
<line class="t" x1="415.8" y1="280.5" x2="440.6" y2="286.31"/>
<path class="w" d="M416.8 276.8 l-4 -1 q-3.4 -0.2 -3.2 3 l0 6.2 l4.6 2.2 l0 -6 q0 -1.8 2.6 -1.2 Z" />
<path class="t" d="M409.8 279.2 l4.4 2.2" />
<line class="s" x1="432.8" y1="286.5" x2="456.3" y2="292.14"/>
<line class="t" x1="432.5" y1="288.2" x2="456.3" y2="293.84"/>
<line class="t" x1="432.2" y1="289.9" x2="456.3" y2="295.54"/>
<path class="w" d="M433.2 286.2 l-4 -1 q-3.4 -0.2 -3.2 3 l0 6.2 l4.6 2.2 l0 -6 q0 -1.8 2.6 -1.2 Z" />
<path class="t" d="M426.2 288.6 l4.4 2.2" />
<ellipse class="w" cx="408.4" cy="245.6" rx="12.3" ry="16.8" transform="rotate(16 408.4 245.6)"/>
<path d="M413.03 229.45 L418.83 230.85 L409.57 263.15 L403.77 261.75 Z" fill="#fff" stroke="none"/>
<line class="s" x1="413.03" y1="229.45" x2="418.83" y2="230.85"/>
<line class="s" x1="403.77" y1="261.75" x2="409.57" y2="263.15"/>
<ellipse class="w" cx="414.2" cy="247" rx="12.3" ry="16.8" transform="rotate(16 414.2 247)"/>
<ellipse cx="414.2" cy="247" rx="10.82" ry="14.78" transform="rotate(16 414.2 247)" fill="none" stroke="#1c1c1c" stroke-width="1.0"/>
<ellipse cx="414.2" cy="247" rx="9.35" ry="12.77" transform="rotate(16 414.2 247)" fill="none" stroke="#1c1c1c" stroke-width="1.0"/>
<ellipse cx="414.2" cy="247" rx="7.87" ry="10.75" transform="rotate(16 414.2 247)" fill="none" stroke="#1c1c1c" stroke-width="1.0"/>
<ellipse class="t" cx="414.2" cy="247" rx="10.09" ry="13.78" transform="rotate(16 414.2 247)"/>
<ellipse class="t" cx="414.2" cy="247" rx="8.61" ry="11.76" transform="rotate(16 414.2 247)"/>
<ellipse class="t" cx="414.2" cy="247" rx="6.15" ry="8.4" transform="rotate(16 414.2 247)"/>
<ellipse class="t" cx="414.5" cy="247.3" rx="3.69" ry="5.04" transform="rotate(16 414.5 247.3)"/>
<path class="t" d="M414.6 244.6 l1.4 4.4 l-2.4 1.4" />
<ellipse class="w" cx="424.1" cy="255.4" rx="12.3" ry="16.8" transform="rotate(16 424.1 255.4)"/>
<path d="M428.73 239.25 L434.53 240.65 L425.27 272.95 L419.47 271.55 Z" fill="#fff" stroke="none"/>
<line class="s" x1="428.73" y1="239.25" x2="434.53" y2="240.65"/>
<line class="s" x1="419.47" y1="271.55" x2="425.27" y2="272.95"/>
<ellipse class="w" cx="429.9" cy="256.8" rx="12.3" ry="16.8" transform="rotate(16 429.9 256.8)"/>
<ellipse cx="429.9" cy="256.8" rx="10.82" ry="14.78" transform="rotate(16 429.9 256.8)" fill="none" stroke="#1c1c1c" stroke-width="1.0"/>
<ellipse cx="429.9" cy="256.8" rx="9.35" ry="12.77" transform="rotate(16 429.9 256.8)" fill="none" stroke="#1c1c1c" stroke-width="1.0"/>
<ellipse cx="429.9" cy="256.8" rx="7.87" ry="10.75" transform="rotate(16 429.9 256.8)" fill="none" stroke="#1c1c1c" stroke-width="1.0"/>
<ellipse class="t" cx="429.9" cy="256.8" rx="10.09" ry="13.78" transform="rotate(16 429.9 256.8)"/>
<ellipse class="t" cx="429.9" cy="256.8" rx="8.61" ry="11.76" transform="rotate(16 429.9 256.8)"/>
<ellipse class="t" cx="429.9" cy="256.8" rx="6.15" ry="8.4" transform="rotate(16 429.9 256.8)"/>
<ellipse class="t" cx="430.2" cy="257.1" rx="3.69" ry="5.04" transform="rotate(16 430.2 257.1)"/>
<path class="t" d="M430.3 254.4 l1.4 4.4 l-2.4 1.4" />
<ellipse class="w" cx="439.8" cy="265.2" rx="12.3" ry="16.8" transform="rotate(16 439.8 265.2)"/>
<path d="M444.43 249.05 L450.23 250.45 L440.97 282.75 L435.17 281.35 Z" fill="#fff" stroke="none"/>
<line class="s" x1="444.43" y1="249.05" x2="450.23" y2="250.45"/>
<line class="s" x1="435.17" y1="281.35" x2="440.97" y2="282.75"/>
<ellipse class="w" cx="445.6" cy="266.6" rx="12.3" ry="16.8" transform="rotate(16 445.6 266.6)"/>
<ellipse cx="445.6" cy="266.6" rx="10.82" ry="14.78" transform="rotate(16 445.6 266.6)" fill="none" stroke="#1c1c1c" stroke-width="1.0"/>
<ellipse cx="445.6" cy="266.6" rx="9.35" ry="12.77" transform="rotate(16 445.6 266.6)" fill="none" stroke="#1c1c1c" stroke-width="1.0"/>
<ellipse cx="445.6" cy="266.6" rx="7.87" ry="10.75" transform="rotate(16 445.6 266.6)" fill="none" stroke="#1c1c1c" stroke-width="1.0"/>
<ellipse class="t" cx="445.6" cy="266.6" rx="10.09" ry="13.78" transform="rotate(16 445.6 266.6)"/>
<ellipse class="t" cx="445.6" cy="266.6" rx="8.61" ry="11.76" transform="rotate(16 445.6 266.6)"/>
<ellipse class="t" cx="445.6" cy="266.6" rx="6.15" ry="8.4" transform="rotate(16 445.6 266.6)"/>
<ellipse class="t" cx="445.9" cy="266.9" rx="3.69" ry="5.04" transform="rotate(16 445.9 266.9)"/>
<path class="t" d="M446 264.2 l1.4 4.4 l-2.4 1.4" />
<ellipse class="w" cx="455.5" cy="275" rx="12.3" ry="16.8" transform="rotate(16 455.5 275)"/>
<path d="M460.13 258.85 L465.93 260.25 L456.67 292.55 L450.87 291.15 Z" fill="#fff" stroke="none"/>
<line class="s" x1="460.13" y1="258.85" x2="465.93" y2="260.25"/>
<line class="s" x1="450.87" y1="291.15" x2="456.67" y2="292.55"/>
<ellipse class="w" cx="461.3" cy="276.4" rx="12.3" ry="16.8" transform="rotate(16 461.3 276.4)"/>
<ellipse cx="461.3" cy="276.4" rx="10.82" ry="14.78" transform="rotate(16 461.3 276.4)" fill="none" stroke="#1c1c1c" stroke-width="1.0"/>
<ellipse cx="461.3" cy="276.4" rx="9.35" ry="12.77" transform="rotate(16 461.3 276.4)" fill="none" stroke="#1c1c1c" stroke-width="1.0"/>
<ellipse cx="461.3" cy="276.4" rx="7.87" ry="10.75" transform="rotate(16 461.3 276.4)" fill="none" stroke="#1c1c1c" stroke-width="1.0"/>
<ellipse class="t" cx="461.3" cy="276.4" rx="10.09" ry="13.78" transform="rotate(16 461.3 276.4)"/>
<ellipse class="t" cx="461.3" cy="276.4" rx="8.61" ry="11.76" transform="rotate(16 461.3 276.4)"/>
<ellipse class="t" cx="461.3" cy="276.4" rx="6.15" ry="8.4" transform="rotate(16 461.3 276.4)"/>
<ellipse class="t" cx="461.6" cy="276.7" rx="3.69" ry="5.04" transform="rotate(16 461.6 276.7)"/>
<path class="t" d="M461.7 274 l1.4 4.4 l-2.4 1.4" />
<!-- 40_beam17.py -->
<path d="M232.3 506 L473 366.2 L487 373.2 L243 513.8 Z" fill="#fff" stroke="none"/>
<line class="s" x1="232.3" y1="506" x2="473" y2="366.2"/>
<line class="s" x1="243" y1="513.8" x2="487" y2="373.2"/>
<path class="w" d="M243 513.8 L487 373.2 L485.4 391.6 L243 532 Z"/>
<line class="s" x1="234.65" y1="507.04" x2="494.24" y2="356.46"/>
<line class="s" x1="236.92" y1="508.01" x2="489.62" y2="361.65"/>
<line class="t" x1="238.86" y1="508.79" x2="485.7" y2="366.42"/>
<path class="w" d="M230 509.4 L232.3 506.2 L239.4 509.2 L243 513.8 L243 532 L235.4 530 L230 523 Z" />
<path class="t" d="M231.3 510.2 L233 507.8 L238.6 510.4 L241.6 514.4 L241.6 530.2 L236 528.8 L231.3 522.6 Z" />
<line class="t" x1="231.4" y1="518.8" x2="241.4" y2="524.6"/>
<circle class="t" cx="239.2" cy="515.6" r="0.9"/>
<path class="wt" d="M249.6 512.8 l2.6 -1.5 l0 2.8 l-2.6 1.5 Z" />
<path class="wt" d="M249.6 522.4 l2.6 -1.5 l0 2.8 l-2.6 1.5 Z" />
<path class="w" d="M500 338.4 L475.4 361.6 Q473.4 363.8 473 366.2 L477.6 368.6 L502.8 351.5 Z" />
<path class="t" d="M500.6 342 L477 364.6 M501.6 346 L480.6 366" />
<path class="w" d="M501.5 338 L536.6 317.4 Q542 314.6 547 317 Q552 320 550.8 326 Q549.6 332 545 335 L514 353 L502.8 351.5 Z" />
<path class="t" d="M503 339.6 L537.4 319.4 Q542 317 546 319" />
<ellipse class="w" cx="535.4" cy="335" rx="5" ry="6.1" transform="rotate(25 535.4 335)"/>
<path class="t" d="M531.8 339.2 A5 6.1 25 0 0 539.2 339" />
<path d="M501.5 338 L513.8 350.6 L513.8 361.4 L502.8 351.5 Z" fill="#fff" stroke="none"/>
<path class="s" d="M501.5 338 L513.8 350.6" />
<path class="t" d="M502.8 351.5 L506 352.6" />
<circle class="t" cx="510.2" cy="348.6" r="0.8"/>
<path class="w" d="M513.8 361.4 L490.4 370.4 Q487 371.8 486.4 375 L485.5 387 Q485.4 390 487.6 391.4 L489.6 392.8 Q491.4 393.8 493.6 393 L513.8 384.8 Z" />
<path class="t" d="M491.7 372.8 L511.4 365.2 L511.4 378.6 L491.7 387.2 Z" />
<path class="t" d="M488 371.8 Q489 373.6 488.8 376 L488.2 388 Q488.4 390.6 490.6 392" />
<path class="w" d="M513.8 351.5 L521.2 350.3 L556.6 330.2 Q562 327.6 566.6 330.4 Q572 334.2 571.6 342 Q570.8 348.6 566 352.6 L525 384.4 Q520 387.6 513.8 386 Z" />
<path class="t" d="M515 353.2 L521.6 352.2 L557.4 332 Q561.6 330 565.2 331.8" />
<ellipse class="w" cx="556.6" cy="347.4" rx="5" ry="6.1" transform="rotate(25 556.6 347.4)"/>
<path class="t" d="M553 351.6 A5 6.1 25 0 0 560.4 351.2" />
<path class="t" d="M536 345.2 L536 373.6 M549.5 337.8 L549.5 366.2 M536 345.2 L549.5 337.8 M536 373.6 L549.5 366.2" />
<path class="t" d="M521.4 352 L521.4 385.6" />
<circle class="t" cx="531.6" cy="362" r="0.9"/>
<ellipse class="wt" cx="489.5" cy="338.97" rx="4" ry="5.2" transform="rotate(25 489.5 338.97)"/>
<ellipse class="w2" cx="490.4" cy="338.7" rx="4" ry="5.2" transform="rotate(25 490.4 338.7)"/>
<ellipse class="w2" cx="490.5" cy="338.7" rx="1.68" ry="2.18" transform="rotate(25 490.5 338.7)"/>
<ellipse class="wt" cx="552.5" cy="375.67" rx="4" ry="5.2" transform="rotate(25 552.5 375.67)"/>
<ellipse class="w2" cx="553.4" cy="375.4" rx="4" ry="5.2" transform="rotate(25 553.4 375.4)"/>
<ellipse class="w2" cx="553.5" cy="375.4" rx="1.68" ry="2.18" transform="rotate(25 553.5 375.4)"/>
<path d="M567.28 382.49 L564.73 384.9 L561.25 384.02 L560.32 380.71 L562.87 378.3 L566.35 379.18 Z" fill="#c4c4c4" stroke="#1c1c1c" stroke-width="1.15" stroke-linejoin="round"/>
<ellipse class="k" cx="564.1" cy="381.4" rx="1.73" ry="1.87"/>
<ellipse class="wt" cx="564.3" cy="381.3" rx="0.72" ry="0.86"/>
<ellipse class="w" cx="577.4" cy="361" rx="6.8" ry="8.8" transform="rotate(22 577.4 361)"/>
<ellipse class="t" cx="577.6" cy="361.2" rx="5.1" ry="6.8" transform="rotate(22 577.6 361.2)"/>
<ellipse cx="589.4" cy="367.4" rx="2.9" ry="4.1" transform="rotate(22 589.4 367.4)" fill="#fff" stroke="#222" stroke-width="1.5"/>
<ellipse class="w" cx="469.8" cy="307.2" rx="1" ry="1.65" transform="rotate(30.39 469.8 307.2)"/>
<path class="w" d="M468.97 308.62 L489.77 320.82 L491.43 317.98 L470.63 305.78 Z"/>
<ellipse class="w" cx="490.6" cy="319.4" rx="1" ry="1.65" transform="rotate(30.39 490.6 319.4)"/>
<path class="w" d="M451.73 317.77 L470.13 328.37 L471.47 326.03 L453.07 315.43 Z"/>
<path class="k" d="M470.06 328.5 L478.46 333.3 L479.94 330.7 L471.54 325.9 Z"/>
<path class="w" d="M449.01 316.94 L452.01 318.64 L453.99 315.16 L450.99 313.46 Z"/>
<ellipse class="w" cx="450" cy="315.2" rx="1.3" ry="2" transform="rotate(29.54 450 315.2)"/>
<!-- 41_plug16b.py -->
<path class="w" d="M574.6 309.6 Q574.4 307.6 576.4 306.6 L579.8 305.2 Q581.4 304.8 583 305.4 L588.8 308.6 Q590.8 309.8 590.8 312 L590.8 330.4 Q590.8 332 589.2 332.8 L586.6 333.8 Q585 334.2 583.4 333.4 L575.6 328.6 Q574.4 327.8 574.4 326 Z" />
<path class="t" d="M585.2 308.6 L585.2 333.4" />
<path class="t" d="M586.7 309.2 L586.7 333" />
<path class="t" d="M588.2 309.8 L588.2 332.6" />
<path class="t" d="M589.7 310.4 L589.7 332.2" />
<path class="t" d="M580 305.4 L586.6 309.2 M578.2 306 L585 310" />
<path class="w" d="M574 311 Q574 308.4 576.4 309.6 L582.6 313.2 Q584.2 314.2 584.2 316.2 L584.2 331.6 Q584.2 334 582 332.8 L575.6 329 Q574 328 574 326 Z" />
<path class="w" d="M575.8 313.6 Q575.8 311.8 577.4 312.8 L581.2 315 Q582.6 315.8 582.6 317.4 L582.6 329 Q582.6 330.8 581 330 L577.2 327.8 Q575.8 327 575.8 325.4 Z" />
<path class="t" d="M577 327.4 L578.4 325.8 L582.4 328.2 M578.4 325.8 L578.4 314.6" />
<!-- 50_group23.py -->
<path d="M77 471.61 L74.95 473.56 L72.15 472.85 L71.4 470.19 L73.45 468.24 L76.25 468.95 Z" fill="#c4c4c4" stroke="#1c1c1c" stroke-width="1.15" stroke-linejoin="round"/>
<ellipse class="k" cx="74.5" cy="470.7" rx="1.39" ry="1.51"/>
<ellipse class="wt" cx="74.7" cy="470.6" rx="0.58" ry="0.7"/>
<path d="M83.6 467.51 L81.55 469.46 L78.75 468.75 L78 466.09 L80.05 464.14 L82.85 464.85 Z" fill="#c4c4c4" stroke="#1c1c1c" stroke-width="1.15" stroke-linejoin="round"/>
<ellipse class="k" cx="81.1" cy="466.6" rx="1.39" ry="1.51"/>
<ellipse class="wt" cx="81.3" cy="466.5" rx="0.58" ry="0.7"/>
<g transform="translate(0.8 0.7)"><path class="w2" d="M85.12 479.77 L95.37 473.87 L93.28 470.23 L83.03 476.13 Z" /></g>
<path class="w2" d="M85.12 479.77 L95.37 473.87 L93.28 470.23 L83.03 476.13 Z" />
<circle class="t" cx="86" cy="476.84" r="0.7"/>
<circle class="t" cx="92.4" cy="473.16" r="0.7"/>
<g transform="translate(0.8 0.7)"><path class="w2" d="M130.31 467.27 L140.97 461.18 L138.89 457.53 L128.23 463.62 Z" /></g>
<path class="w2" d="M130.31 467.27 L140.97 461.18 L138.89 457.53 L128.23 463.62 Z" />
<circle class="t" cx="131.24" cy="464.32" r="0.7"/>
<circle class="t" cx="137.96" cy="460.48" r="0.7"/>
<g transform="translate(0.8 0.7)"><path class="w2" d="M153.5 511.11 L154.52 522.9 L159.3 522.49 L158.28 510.7 Z" /></g>
<path class="w2" d="M153.5 511.11 L154.52 522.9 L159.3 522.49 L158.28 510.7 Z" />
<circle class="t" cx="156.08" cy="513.12" r="0.7"/>
<circle class="t" cx="156.72" cy="520.48" r="0.7"/>
<g transform="translate(0.8 0.7)"><path class="w2" d="M185.7 529.1 L186.72 540.89 L191.3 540.5 L190.28 528.71 Z" /></g>
<path class="w2" d="M185.7 529.1 L186.72 540.89 L191.3 540.5 L190.28 528.71 Z" />
<circle class="t" cx="188.18" cy="531.12" r="0.7"/>
<circle class="t" cx="188.82" cy="538.48" r="0.7"/>
<path class="w" d="M144.88 467.29 L160.38 475.79 L162.02 472.81 L146.52 464.31 Z"/>
<ellipse class="w" cx="145.7" cy="465.8" rx="0.8" ry="1.7" transform="rotate(28.74 145.7 465.8)"/>
<ellipse class="w" cx="161.2" cy="474.3" rx="1.9" ry="2.9" transform="rotate(28.74 161.2 474.3)"/>
<path class="w" d="M137.52 471.01 L154.02 479.51 L155.58 476.49 L139.08 467.99 Z"/>
<ellipse class="w" cx="138.3" cy="469.5" rx="0.8" ry="1.7" transform="rotate(27.26 138.3 469.5)"/>
<ellipse class="w" cx="154.8" cy="478" rx="1.9" ry="2.9" transform="rotate(27.26 154.8 478)"/>
<path class="w" d="M198.79 539.04 L215.49 546.74 L216.91 543.66 L200.21 535.96 Z"/>
<ellipse class="w" cx="199.5" cy="537.5" rx="0.8" ry="1.7" transform="rotate(24.75 199.5 537.5)"/>
<ellipse class="w" cx="216.2" cy="545.2" rx="1.9" ry="2.9" transform="rotate(24.75 216.2 545.2)"/>
<path class="w" d="M198.78 546.94 L215.48 554.74 L216.92 551.66 L200.22 543.86 Z"/>
<ellipse class="w" cx="199.5" cy="545.4" rx="0.8" ry="1.7" transform="rotate(25.04 199.5 545.4)"/>
<ellipse class="w" cx="216.2" cy="553.2" rx="1.9" ry="2.9" transform="rotate(25.04 216.2 553.2)"/>
<path class="w" d="M95.2 484.6 L96 496.8 Q96.2 498.2 97.6 498.6 L104 500.4 Q105.4 500.6 106.6 499.6 L114.6 493.6 Q115.6 492.8 115.7 491.4 L115.7 482.6 Z" />
<path class="w" d="M95.2 484.6 Q94.8 483 96.4 482 L103.2 477.6 Q105 476.6 107 477.4 L114.4 480.6 Q116.2 481.6 115.4 483.2 L107 489.6 Q105 491 103 490.2 L96.4 486.2 Q95.4 485.6 95.2 484.6 Z" />
<path class="s" d="M98.2 484.4 Q97.4 483.4 98.8 482.6 L103.4 479.8 Q105 479 106.6 479.6 L111.6 481.8 Q112.8 482.6 111.6 483.6 L106.6 487.4 Q105 488.4 103.4 487.6 Z" />
<path class="t" d="M100.4 484 Q100 483.2 101 482.6 L104 480.9 Q105 480.5 106 480.9 L109.2 482.3 Q110 482.9 109.2 483.5 L106 485.9 Q105 486.5 104 485.9 Z" />
<line class="t" x1="105.2" y1="490.8" x2="105.4" y2="500.2"/>
<path class="t" d="M95.4 494.6 L104.2 498.4 L115.6 490.4" />
<path class="t" d="M102.4 489.6 L102.4 497.6" />
<circle class="t" cx="99.6" cy="492.4" r="0.6"/>
<circle class="t" cx="111" cy="488.8" r="0.6"/>
<path class="w" d="M100.2 522 L100.2 554 Q100.2 562.6 106.4 565.8 Q112 568.4 118 565 L142.6 551.8 L137.6 539.6 L116.4 549.8 Q112.5 551.4 112.5 546 L112.5 522 Z" />
<path class="t" d="M101.8 522 L101.8 554 Q102 561 107.2 564 Q112 566.2 117.4 563.4" />
<path class="g" d="M101.8 510.8 Q106.4 508.2 111 510.8 L111 516.4 L101.8 516.4 Z" />
<path class="s" d="M101.8 511.6 Q106.4 512.8 111 511.6" />
<path class="s" d="M101.8 513 Q106.4 514.2 111 513" />
<path class="s" d="M101.8 514.4 Q106.4 515.6 111 514.4" />
<path class="s" d="M101.8 515.6 Q106.4 516.8 111 515.6" />
<path class="w" d="M99.6 516.2 L113 516.2 L113 519 L112 520 L112 522.6 L100.6 522.6 L100.6 520 L99.6 519 Z" />
<line class="t" x1="100.6" y1="520" x2="112" y2="520"/>
<path class="t" d="M100.2 527.6 Q106.4 530 112.5 527.6" />
<path class="t" d="M100.2 537.6 Q106.4 540 112.5 537.6" />
<path class="w" d="M136.8 539 L147.4 534.2 L151.8 545 L141.6 551 Z" />
<path class="t" d="M139.8 537.6 L144.6 549.4 M143.8 535.8 L148.4 547.2" />
<path d="M148 534.8 L153 532.6 Q155.4 533.2 156.2 536.6 Q156.6 539.4 155.2 540.8 L150.8 543.2 Z" fill="#4a4a4a" stroke="#1c1c1c" stroke-width="0.7"/>
<path class="s" d="M149.2 534.2 l2.9 8.2" />
<path class="s" d="M150.55 533.6 l2.9 8.2" />
<path class="s" d="M151.9 533 l2.9 8.2" />
<path class="s" d="M153.25 532.4 l2.9 8.2" />
<path class="t" d="M126 545.2 L131.6 557.6" />
<path d="M149.5 507.41 L147.45 509.36 L144.65 508.65 L143.9 505.99 L145.95 504.04 L148.75 504.75 Z" fill="#c4c4c4" stroke="#1c1c1c" stroke-width="1.15" stroke-linejoin="round"/>
<ellipse class="k" cx="147" cy="506.5" rx="1.39" ry="1.51"/>
<ellipse class="wt" cx="147.2" cy="506.4" rx="0.58" ry="0.7"/>
<path d="M149.5 515.11 L147.45 517.06 L144.65 516.35 L143.9 513.69 L145.95 511.74 L148.75 512.45 Z" fill="#c4c4c4" stroke="#1c1c1c" stroke-width="1.15" stroke-linejoin="round"/>
<ellipse class="k" cx="147" cy="514.2" rx="1.39" ry="1.51"/>
<ellipse class="wt" cx="147.2" cy="514.1" rx="0.58" ry="0.7"/>
<path class="w" d="M161.5 519.4 L174.2 514.6 Q175.6 514.2 176.8 515 L180 517.4 Q180.7 518 180.7 519.2 L180.7 533.4 Q180.7 534.6 179.6 535.4 L171.6 540.6 Q170 541.6 168 541 L162 538.4 Q160.4 537.6 160.4 535.8 L160.4 521.4 Q160.4 520 161.5 519.4 Z" />
<path class="s" d="M161.5 519.4 Q166 520.4 170.8 523.4 L180.4 518.2 M170.8 523.4 L170.8 541" />
<ellipse cx="165.6" cy="530" rx="3.5" ry="6.6" transform="rotate(-6 165.6 530)" fill="#222" stroke="#222" stroke-width="0.6"/>
<ellipse cx="165.6" cy="530" rx="4.6" ry="8" transform="rotate(-6 165.6 530)" fill="none" stroke="#333" stroke-width="0.6"/>
<circle class="t" cx="177.8" cy="523.4" r="0.6"/>
<circle class="t" cx="177.8" cy="531.4" r="0.6"/>
<!-- 51_hose24.py -->
<path class="w" d="M58.3 570 L58.3 603 Q59 614 68 621 Q77 628 90 626.6 L125.5 610.4 Q129.6 608 129.6 603.4 L129.2 586.2 Q129.2 584.4 127.4 583.4 L118.4 578.4 Q116.5 577.4 114.6 578.4 L94.3 590.2 Q91.6 592 91.5 589 L91.5 566 Z" />
<path d="M58.3 576 Q66 580.2 78 579.6 T91.5 569.4" fill="none" stroke="#222" stroke-width="0.75" stroke-linecap="round"/>
<path d="M58.3 579.6 Q66 583.8 78 583.2 T91.5 572" fill="none" stroke="#222" stroke-width="0.75" stroke-linecap="round"/>
<path d="M58.3 583.2 Q66 587.4 78 586.8 T91.5 574.6" fill="none" stroke="#222" stroke-width="0.75" stroke-linecap="round"/>
<path d="M58.3 586.8 Q66 591 78 590.4 T91.5 577.2" fill="none" stroke="#222" stroke-width="0.75" stroke-linecap="round"/>
<path d="M58.3 590.4 Q66 594.6 78 594 T91.5 579.8" fill="none" stroke="#222" stroke-width="0.75" stroke-linecap="round"/>
<path d="M58.3 594 Q66 598.2 78 597.6 T91.5 582.4" fill="none" stroke="#222" stroke-width="0.75" stroke-linecap="round"/>
<path d="M58.3 597.6 Q66 601.8 78 601.2 T91.5 585" fill="none" stroke="#222" stroke-width="0.75" stroke-linecap="round"/>
<path d="M58.3 601.2 Q66 605.4 78 604.8 T91.5 587.6" fill="none" stroke="#222" stroke-width="0.75" stroke-linecap="round"/>
<path d="M58.3 604.8 Q66 609 78 608.4 T91.5 590.2" fill="none" stroke="#222" stroke-width="0.75" stroke-linecap="round"/>
<path d="M92 591.2 Q77.93 603.42 59.47 609.24" fill="none" stroke="#222" stroke-width="0.75" stroke-linecap="round"/>
<path d="M92.3 591.65 Q79.53 606.58 62.36 615.1" fill="none" stroke="#222" stroke-width="0.75" stroke-linecap="round"/>
<path d="M92.6 592.1 Q81.81 609.18 66.61 619.85" fill="none" stroke="#222" stroke-width="0.75" stroke-linecap="round"/>
<path d="M92.9 592.55 Q84.53 611.21 71.76 623.46" fill="none" stroke="#222" stroke-width="0.75" stroke-linecap="round"/>
<path d="M93.2 593 Q87.26 612.5 76.91 625.6" fill="none" stroke="#222" stroke-width="0.75" stroke-linecap="round"/>
<path d="M93.5 593.45 Q90.23 613.27 82.56 626.68" fill="none" stroke="#222" stroke-width="0.75" stroke-linecap="round"/>
<path d="M93.8 593.9 Q93.2 613.53 88.2 626.75" fill="none" stroke="#222" stroke-width="0.75" stroke-linecap="round"/>
<path d="M95.6 589.6 Q99.1 609.1 93.4 625.4" fill="none" stroke="#222" stroke-width="0.75" stroke-linecap="round"/>
<path d="M97.5 588.52 Q101.49 607.89 96.27 624.05" fill="none" stroke="#222" stroke-width="0.75" stroke-linecap="round"/>
<path d="M99.4 587.44 Q103.87 606.67 99.15 622.71" fill="none" stroke="#222" stroke-width="0.75" stroke-linecap="round"/>
<path d="M101.3 586.35 Q106.26 605.46 102.02 621.36" fill="none" stroke="#222" stroke-width="0.75" stroke-linecap="round"/>
<path d="M103.2 585.27 Q108.65 604.25 104.89 620.02" fill="none" stroke="#222" stroke-width="0.75" stroke-linecap="round"/>
<path d="M105.1 584.19 Q111.03 603.03 107.76 618.67" fill="none" stroke="#222" stroke-width="0.75" stroke-linecap="round"/>
<path d="M107 583.11 Q113.42 601.82 110.64 617.33" fill="none" stroke="#222" stroke-width="0.75" stroke-linecap="round"/>
<path d="M108.9 582.03 Q115.8 600.6 113.51 615.98" fill="none" stroke="#222" stroke-width="0.75" stroke-linecap="round"/>
<path d="M110.8 580.95 Q118.19 599.39 116.38 614.64" fill="none" stroke="#222" stroke-width="0.75" stroke-linecap="round"/>
<path d="M112.7 579.86 Q120.58 598.18 119.25 613.29" fill="none" stroke="#222" stroke-width="0.75" stroke-linecap="round"/>
<path d="M114.6 578.78 Q122.96 596.96 122.13 611.95" fill="none" stroke="#222" stroke-width="0.75" stroke-linecap="round"/>
<path d="M116.5 577.7 Q125.35 595.75 125 610.6" fill="none" stroke="#222" stroke-width="0.75" stroke-linecap="round"/>
<path class="wt" d="M127.4 592.4 l2 1 l0 2.8 l-2 -1 Z" />
<path class="wt" d="M127.4 599.4 l2 1 l0 2.8 l-2 -1 Z" />
<path class="w" d="M61.8 566 L61.8 571.6 Q66 577 71 576.6 L87.4 566.6 L87.4 560.8 Z" />
<path class="w" d="M62.2 565 Q61.4 563.6 63 562.6 L75.6 556.4 Q77.8 555.6 80 556.4 L85.6 559 Q87.4 560 86.4 561.6 L72 570.4 Q69.8 571.6 67.6 570.6 L63 567.4 Q62.2 566.6 62.2 565 Z" />
<path class="s" d="M65.4 565 Q65 564 66.2 563.2 L76.2 558.4 Q77.8 557.8 79.4 558.4 L83 560 Q84.2 560.8 83.2 561.8 L71.6 568.8 Q70 569.6 68.6 568.8 L65.8 566.6 Q65.4 566.2 65.4 565 Z" />
<circle class="t" cx="66" cy="566.6" r="0.6"/>
<circle class="t" cx="73" cy="560.2" r="0.6"/>
<circle class="t" cx="76.6" cy="568" r="0.6"/>
<circle class="t" cx="83.4" cy="562.8" r="0.6"/>
<line class="t" x1="69.8" y1="571.4" x2="69.8" y2="577"/>
<!-- 90_labels.py -->
<line class="ld" x1="51" y1="66" x2="68.4" y2="48"/>
<text class="l" x="43.6" y="76.7">1</text>
<line class="ld" x1="69" y1="74.4" x2="84" y2="56"/>
<text class="l" x="61.6" y="87.3">2</text>
<line class="ld" x1="118.2" y1="94" x2="118.2" y2="75"/>
<text class="l" x="118" y="106.7">3</text>
<line class="ld" x1="183" y1="53" x2="167" y2="77"/>
<text class="l" x="188" y="48.3">4</text>
<line class="ld" x1="64" y1="105" x2="97" y2="111"/>
<text class="l" x="51" y="108.7">29</text>
<line class="ld" x1="53" y1="129" x2="84.5" y2="132"/>
<text class="l" x="42" y="132.7">28</text>
<line class="ld" x1="134" y1="156.5" x2="142" y2="169"/>
<text class="l" x="132.7" y="152.7">16</text>
<line class="ld" x1="68" y1="169" x2="47.5" y2="185"/>
<text class="l" x="76" y="165.7">22</text>
<line class="ld" x1="76.6" y1="203.6" x2="106" y2="203.6"/>
<text class="l" x="115.6" y="209.1">27</text>
<line class="ld" x1="183.2" y1="267.3" x2="164.5" y2="285.5"/>
<text class="l" x="194" y="265">26</text>
<line class="ld" x1="122.7" y1="356.8" x2="148.4" y2="356.8"/>
<text class="l" x="160.6" y="361.1">25</text>
<line class="ld" x1="154.8" y1="426.4" x2="140" y2="457"/>
<text class="l" x="156.8" y="422.9">19</text>
<line class="ld" x1="436" y1="530" x2="443.6" y2="544"/>
<text class="l" x="444.6" y="561">17</text>
<line class="ld" x1="238" y1="86.3" x2="256.5" y2="72"/>
<text class="l" x="229.4" y="97.7">1</text>
<line class="ld" x1="259.7" y1="106.5" x2="270" y2="78.2"/>
<text class="l" x="256.5" y="123.1">2</text>
<line class="ld" x1="310.3" y1="25.4" x2="291.7" y2="44"/>
<text class="l" x="316" y="22.7">5</text>
<line class="ld" x1="341.8" y1="42.3" x2="331.3" y2="67.7"/>
<text class="l" x="344.8" y="37.5">3</text>
<line class="ld" x1="365.4" y1="61" x2="345.8" y2="79.5"/>
<text class="l" x="371.2" y="58.8">6</text>
<line class="ld" x1="335.7" y1="150.8" x2="326" y2="179"/>
<text class="l" x="337.8" y="148.1">3</text>
<line class="ld" x1="368.4" y1="162.6" x2="349.4" y2="194"/>
<text class="l" x="373.7" y="158.3">6</text>
<line class="ld" x1="396.7" y1="188.4" x2="373" y2="216"/>
<text class="l" x="402.5" y="185.3">8</text>
<line class="ld" x1="465.5" y1="216" x2="439" y2="245"/>
<text class="l" x="469.5" y="213.1">9</text>
<line class="ld" x1="284.8" y1="202.3" x2="297.6" y2="240.5"/>
<text class="l" x="297.6" y="256.7">7</text>
<line class="ld" x1="431.3" y1="335.6" x2="458" y2="322.8"/>
<text class="l" x="417.7" y="344.4">11</text>
<line class="ld" x1="520" y1="299.4" x2="483" y2="312.4"/>
<text class="l" x="533" y="302.1">10</text>
<line class="ld" x1="463.4" y1="352.8" x2="486.8" y2="340.5"/>
<text class="l" x="449.8" y="362.4">12</text>
<line class="ld" x1="527.4" y1="398.3" x2="550.3" y2="377.4"/>
<text class="l" x="515" y="410.4">12</text>
<line class="ld" x1="543.4" y1="411.8" x2="562.3" y2="384.8"/>
<text class="l" x="535.5" y="426.4">13</text>
<line class="ld" x1="569.2" y1="398.3" x2="576" y2="370"/>
<text class="l" x="563.8" y="415.3">14</text>
<line class="ld" x1="587" y1="389.7" x2="588.4" y2="372.5"/>
<text class="l" x="586.5" y="406">15</text>
<line class="ld" x1="593" y1="322.3" x2="613" y2="330"/>
<text class="l" x="626" y="338.4">16</text>
<line class="ld" x1="52.2" y1="500.3" x2="73" y2="473.2"/>
<text class="l" x="43.5" y="518.1">22</text>
<line class="ld" x1="79.2" y1="497.8" x2="86" y2="480.6"/>
<text class="l" x="71.4" y="512.4">21</text>
<line class="ld" x1="84.2" y1="529.8" x2="96.5" y2="500.3"/>
<text class="l" x="82.4" y="544.4">20</text>
<line class="ld" x1="32.7" y1="444.2" x2="53.8" y2="473"/>
<text class="l" x="29.6" y="439.3">23</text>
<line class="ld" x1="178.8" y1="447" x2="155.8" y2="467.3"/>
<text class="l" x="186.5" y="443.2">18</text>
<line class="ld" x1="148" y1="621.2" x2="123" y2="610.8"/>
<text class="l" x="157.7" y="628.5">24</text>
</svg>
</body></html>
